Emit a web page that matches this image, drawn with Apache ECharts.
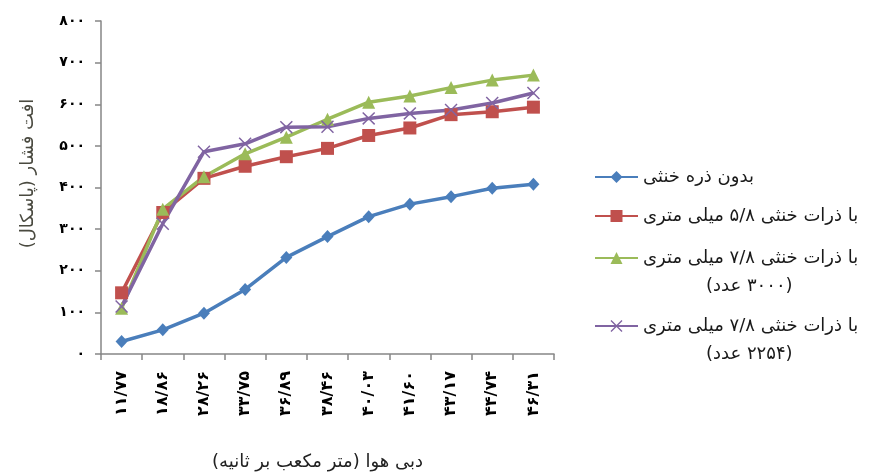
<!DOCTYPE html>
<html><head><meta charset="utf-8">
<script src="https://cdn.jsdelivr.net/npm/echarts@6/dist/echarts.min.js"></script>
<style>html,body{margin:0;padding:0;background:#fff}#c{width:894px;height:474px}</style>
</head><body><div id="c"></div>
<script>
// ---- data ----
const categories = ['۱۱/۷۷','۱۸/۸۶','۲۸/۲۶','۳۳/۷۵','۳۶/۸۹','۳۸/۴۶','۴۰/۰۳','۴۱/۶۰','۴۳/۱۷','۴۴/۷۴','۴۶/۳۱'];
const yTickLabels = ['۰','۱۰۰','۲۰۰','۳۰۰','۴۰۰','۵۰۰','۶۰۰','۷۰۰','۸۰۰'];
const seriesNames = [
  'بدون ذره خنثی',
  'با ذرات خنثی ۵/۸ میلی متری',
  'با ذرات خنثی ۷/۸ میلی متری (۳۰۰۰ عدد)',
  'با ذرات خنثی ۷/۸ میلی متری (۲۲۵۴ عدد)'
];
const legendLine1 = ['بدون ذره خنثی','با ذرات خنثی ۵/۸ میلی متری','با ذرات خنثی ۷/۸ میلی متری','با ذرات خنثی ۷/۸ میلی متری'];
const legendLine2 = ['','','(۳۰۰۰ عدد)','(۲۲۵۴ عدد)'];
const noParticles = [30, 58, 98, 155, 232, 282, 330, 360, 378, 398, 408];
const particles58 = [147, 340, 422, 451, 474, 494, 525, 543, 575, 582, 593];
const particles78n3000 = [110, 348, 426, 481, 521, 564, 605, 620, 640, 658, 670];
const particles78n2254 = [114, 313, 486, 505, 545, 546, 566, 578, 586, 603, 627];
const xTitle = 'دبی هوا (متر مکعب بر ثانیه)';
const yTitle = 'افت فشار (پاسکال)';

// ---- chart ----
const RLM = '\u200F';
const FONT = 'DejaVu Sans';
const LFS = 18;
const colors = ['#4A7EBB', '#C0504D', '#9BBB59', '#8064A2'];
const xPath = 'path://M0,0.8 L0.8,0 L5,4.2 L9.2,0 L10,0.8 L5.8,5 L10,9.2 L9.2,10 L5,5.8 L0.8,10 L0,9.2 L4.2,5 Z';
const seriesData = [noParticles, particles58, particles78n3000, particles78n2254];
const symbols = ['diamond', 'rect', 'triangle', xPath];
const symbolSizes = [[12, 13], 13, 13, 13];

function legendFor(i, top) {
  const twoLine = legendLine2[i] !== '';
  return {
    orient: 'vertical', left: 594, top: top, padding: 0,
    itemWidth: 43, itemHeight: 15, selectedMode: false,
    data: [seriesNames[i]],
    formatter: function () {
      if (!twoLine) return '{s|' + RLM + legendLine1[i] + RLM + '}';
      return '{a|' + RLM + legendLine1[i] + RLM + '}\n{b|' + RLM + legendLine2[i] + RLM + '}';
    },
    textStyle: {
      fontFamily: FONT, fontSize: LFS, color: '#1a1a1a',
      rich: {
        s: { fontFamily: FONT, fontSize: LFS, color: '#1a1a1a' },
        a: { fontFamily: FONT, fontSize: LFS, color: '#1a1a1a', padding: [28, 0, 5, 0] },
        b: { fontFamily: FONT, fontSize: LFS, color: '#1a1a1a', padding: [5, 0, 0, 63] }
      }
    }
  };
}

const chart = echarts.init(document.getElementById('c'), null, { renderer: 'canvas' });
chart.setOption({
  animation: false,
  backgroundColor: '#ffffff',
  color: colors,
  grid: { left: 101, right: 340, top: 21, bottom: 120, containLabel: false, outerBoundsMode: 'none' },
  legend: [legendFor(0, 168), legendFor(1, 207), legendFor(2, 249), legendFor(3, 317)],
  xAxis: {
    type: 'category', data: categories, boundaryGap: true,
    name: RLM + xTitle + RLM, nameLocation: 'middle', nameGap: 99,
    nameTextStyle: { fontFamily: FONT, fontSize: 18, color: '#222', padding: [0, 20, 0, 0] },
    axisLine: { show: true, lineStyle: { color: '#868686', width: 1.5 } },
    axisTick: { show: true, length: 6, interval: 0, lineStyle: { color: '#868686', width: 1.5 } },
    axisLabel: { interval: 0, rotate: 90, margin: 17, fontFamily: FONT, fontSize: 16, fontWeight: 'bold', color: '#000' },
    splitLine: { show: false }
  },
  yAxis: {
    type: 'value', min: 0, max: 800, interval: 100,
    name: RLM + yTitle + RLM, nameLocation: 'middle', nameRotate: 90, nameGap: 64,
    nameTextStyle: { fontFamily: FONT, fontSize: 18, color: '#4a4a40', padding: [0, 0, 0, 28] },
    axisLine: { show: true, lineStyle: { color: '#868686', width: 1.5 } },
    axisTick: { show: true, length: 6, lineStyle: { color: '#868686', width: 1.5 } },
    axisLabel: {
      margin: 16, fontFamily: FONT, fontSize: 14, fontWeight: 'bold', color: '#000',
      formatter: function (v) { return yTickLabels[Math.round(v / 100)]; }
    },
    splitLine: { show: false }
  },
  series: seriesData.map(function (d, i) {
    return {
      name: seriesNames[i], type: 'line', data: d,
      symbol: symbols[i], symbolSize: symbolSizes[i], showAllSymbol: true,
      lineStyle: { width: 3.5, color: colors[i] },
      itemStyle: { color: colors[i] },
      emphasis: { disabled: true }
    };
  })
});
</script></body></html>
